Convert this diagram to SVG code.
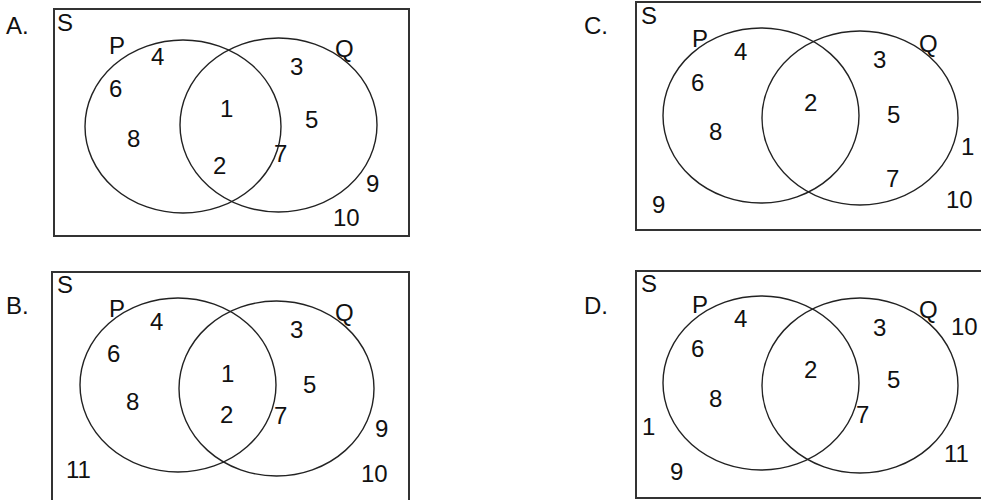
<svg xmlns="http://www.w3.org/2000/svg" width="981" height="500" viewBox="0 0 981 500">
<style>
.box{fill:none;stroke:#333;stroke-width:2}
.set{fill:none;stroke:#222;stroke-width:1.4}
text{font-family:"Liberation Sans",Arial,sans-serif;font-size:24px;fill:#111}
</style>
<rect x="0" y="0" width="981" height="500" fill="#fff"/>
<g id="panelA">
<text x="6" y="34">A.</text>
<rect class="box" x="54" y="9" width="355" height="227"/>
<ellipse id="A-P" class="set" cx="183" cy="126.5" rx="98" ry="86.5"/>
<ellipse id="A-Q" class="set" cx="278.5" cy="125" rx="98.5" ry="87"/>
<text x="57" y="31">S</text>
<text x="109" y="54">P</text>
<text x="151" y="65">4</text>
<text x="109" y="97">6</text>
<text x="127" y="147">8</text>
<text x="220" y="117">1</text>
<text x="213" y="174">2</text>
<text x="290" y="75">3</text>
<text x="335" y="57">Q</text>
<text x="305" y="128">5</text>
<text x="274" y="162">7</text>
<text x="366" y="192">9</text>
<text x="333" y="226">10</text>
</g>
<g id="panelC">
<text x="584" y="34">C.</text>
<rect class="box" x="636" y="2" width="360" height="228"/>
<ellipse id="C-P" class="set" cx="761" cy="115.5" rx="98" ry="87.5"/>
<ellipse id="C-Q" class="set" cx="860" cy="118" rx="98" ry="87"/>
<text x="641" y="24">S</text>
<text x="692" y="47">P</text>
<text x="734" y="60">4</text>
<text x="691" y="91">6</text>
<text x="709" y="140">8</text>
<text x="804" y="111">2</text>
<text x="873" y="68">3</text>
<text x="919" y="52">Q</text>
<text x="887" y="123">5</text>
<text x="886" y="187">7</text>
<text x="961" y="155">1</text>
<text x="946" y="208">10</text>
<text x="652" y="213">9</text>
</g>
<g id="panelB">
<text x="6" y="314">B.</text>
<rect class="box" x="52" y="272" width="357" height="240"/>
<ellipse id="B-P" class="set" cx="178" cy="385" rx="98" ry="87"/>
<ellipse id="B-Q" class="set" cx="276.5" cy="388.5" rx="97.5" ry="87.5"/>
<text x="57" y="293">S</text>
<text x="109" y="317">P</text>
<text x="150" y="330">4</text>
<text x="107" y="362">6</text>
<text x="126" y="410">8</text>
<text x="221" y="382">1</text>
<text x="220" y="423">2</text>
<text x="290" y="338">3</text>
<text x="335" y="321">Q</text>
<text x="303" y="393">5</text>
<text x="274" y="424">7</text>
<text x="375" y="437">9</text>
<text x="361" y="482">10</text>
<text x="66" y="478">11</text>
</g>
<g id="panelD">
<text x="584" y="314">D.</text>
<rect class="box" x="636" y="271" width="360" height="227"/>
<ellipse id="D-P" class="set" cx="761" cy="383" rx="98" ry="87"/>
<ellipse id="D-Q" class="set" cx="860" cy="385.5" rx="98" ry="87.5"/>
<text x="641" y="292">S</text>
<text x="692" y="313">P</text>
<text x="734" y="327">4</text>
<text x="691" y="357">6</text>
<text x="709" y="407">8</text>
<text x="804" y="378">2</text>
<text x="873" y="336">3</text>
<text x="919" y="318">Q</text>
<text x="951" y="335">10</text>
<text x="887" y="388">5</text>
<text x="856" y="423">7</text>
<text x="944" y="462">11</text>
<text x="642" y="435">1</text>
<text x="670" y="480">9</text>
</g>
<g id="connectors"/>
</svg>
